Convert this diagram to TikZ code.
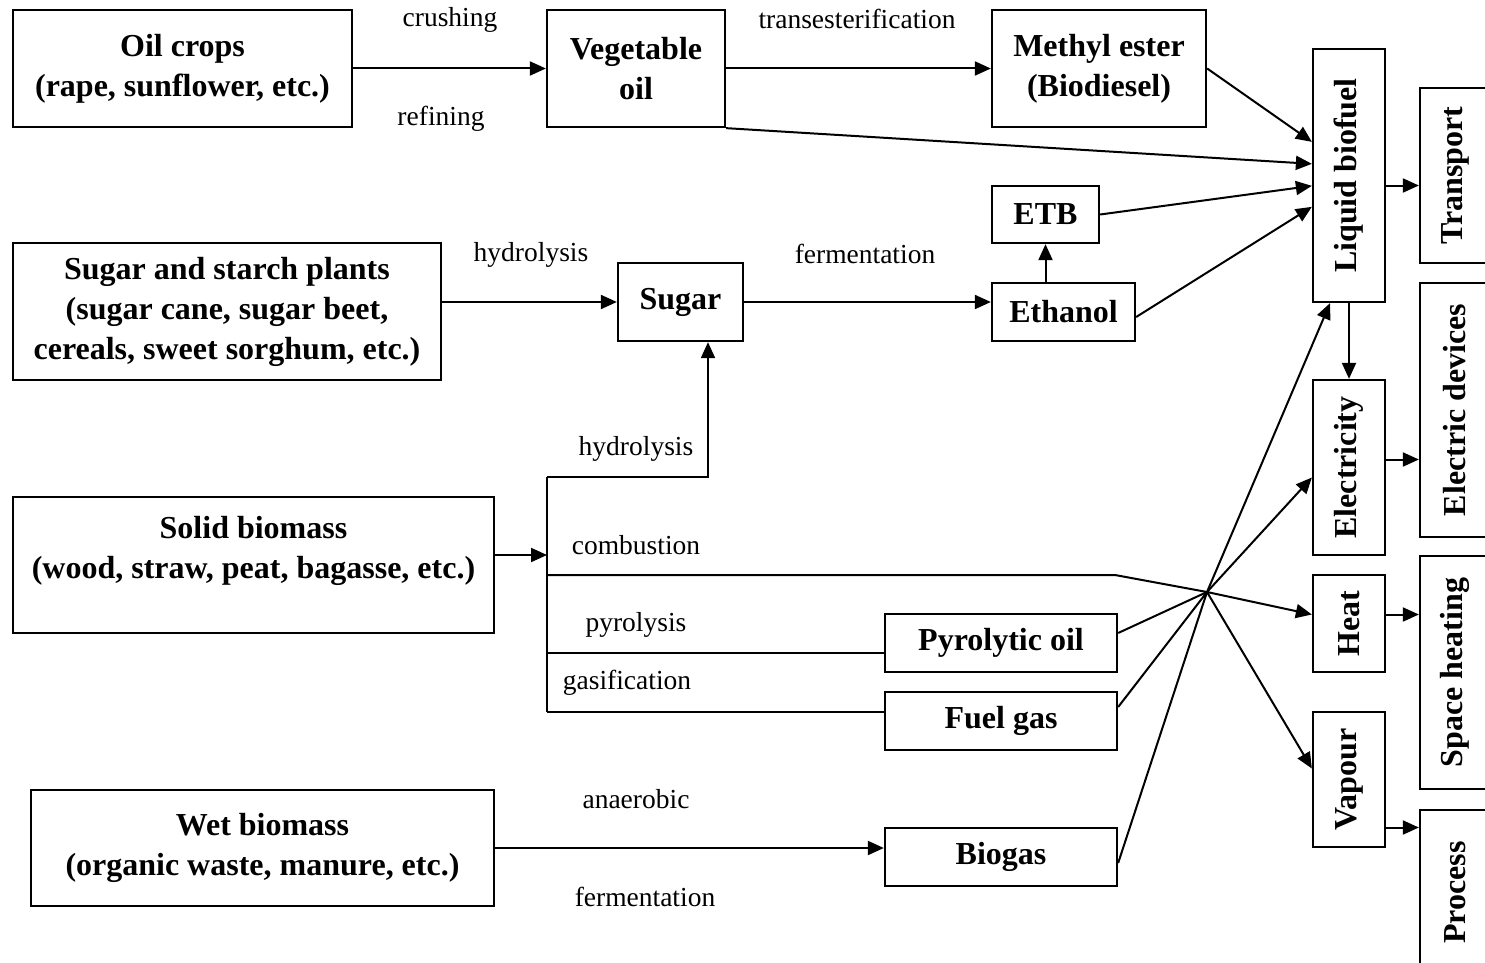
\documentclass[tikz,border=0pt]{standalone}
\usepackage{fontspec}
\setmainfont{Liberation Serif}
\usetikzlibrary{arrows.meta,calc}
\begin{document}
\begin{tikzpicture}[x=1pt,y=-1pt,
  box/.style={draw, line width=2.3pt, inner sep=0pt, align=center, font=\bfseries\fontsize{32}{40}\selectfont},
  boxtext/.style={inner sep=0pt, align=center, font=\bfseries\fontsize{32}{40}\selectfont},
  lbl/.style={inner sep=0pt, font=\fontsize{27.5}{33}\selectfont},
  ln/.style={line width=2pt},
  arr/.style={line width=2pt, -{Triangle[length=16pt,width=14pt]}}]
\useasboundingbox (0,0) rectangle (1485,963);
\clip (0,0) rectangle (1485,963);
\fill[white] (0,0) rectangle (1485,963);
% boxes
\node[box, minimum width=339pt, minimum height=117pt] (oil) at (182.5,68.5) {Oil crops\\(rape, sunflower, etc.)};
\node[box, minimum width=178pt, minimum height=117pt] (veg) at (636,68.5) {Vegetable\\oil};
\node[box, minimum width=214pt, minimum height=117pt] (me) at (1099,68.5) {Methyl ester\\(Biodiesel)};
\node[box, minimum width=72pt, minimum height=253pt] (lb) at (1349,175.5) {\rotatebox{90}{Liquid biofuel}};
\node[box, minimum width=70pt, minimum height=175pt] (tr) at (1455,175.5) {\rotatebox{90}{Transport}};
\node[box, minimum width=107pt, minimum height=57pt] (etb) at (1045.5,214.5) {ETB};
\node[box, minimum width=428pt, minimum height=137pt] (ssp) at (227,311.5) {Sugar and starch plants\\(sugar cane, sugar beet,\\cereals, sweet sorghum, etc.)};
\node[box, minimum width=125pt, minimum height=78pt] (sugar) at (680.5,302) {Sugar};
\node[box, minimum width=143pt, minimum height=58pt] (eth) at (1063.5,312) {Ethanol};
\node[box, minimum width=72pt, minimum height=175pt] (elec) at (1349,467.5) {\rotatebox{90}{Electricity}};
\node[box, minimum width=70pt, minimum height=254pt] (edev) at (1455,410) {\rotatebox{90}{Electric devices}};
\node[box, minimum width=481pt, minimum height=136pt] (solid) at (253.5,565) {};
\node[boxtext] (solidtext) at (253.5,551) {Solid biomass\\(wood, straw, peat, bagasse, etc.)};
\node[box, minimum width=72pt, minimum height=97pt] (heat) at (1349,623.5) {\rotatebox{90}{Heat}};
\node[box, minimum width=70pt, minimum height=233pt] (space) at (1455,672.5) {\rotatebox{90}{Space heating}};
\node[box, minimum width=72pt, minimum height=135pt] (vap) at (1349,779.5) {\rotatebox{90}{Vapour}};
\node[box, minimum width=70pt, minimum height=165pt] (proc) at (1455,892.5) {\rotatebox{90}{Process}};
\node[box, minimum width=232pt, minimum height=58pt] (pyro) at (1001,643) {Pyrolytic oil};
\node[box, minimum width=232pt, minimum height=58pt] (fuel) at (1001,721) {Fuel gas};
\node[box, minimum width=463pt, minimum height=116pt] (wet) at (262.5,848) {Wet biomass\\(organic waste, manure, etc.)};
\node[box, minimum width=232pt, minimum height=58pt] (bio) at (1001,857) {Biogas};
% labels
\node[lbl] (l1) at (450,20) {crushing};
\node[lbl] (l2) at (441,119) {refining};
\node[lbl] (l3) at (857,19) {transesterification};
\node[lbl] (l4) at (531,255) {hydrolysis};
\node[lbl] (l5) at (865,254) {fermentation};
\node[lbl] (l6) at (636,449) {hydrolysis};
\node[lbl] (l7) at (636,545) {combustion};
\node[lbl] (l8) at (636,625) {pyrolysis};
\node[lbl] (l9) at (627,683) {gasification};
\node[lbl] (l10) at (636,799) {anaerobic};
\node[lbl] (l11) at (645,897) {fermentation};
% coordinates
\coordinate (hub) at (1207,592);
\coordinate (br) at (547,555);
\coordinate (bt) at (547,477);
\coordinate (bb) at (547,712);
\coordinate (py) at (547,653);
\coordinate (c1) at (547,575);
\coordinate (c2) at (1115,575);
\coordinate (lbT) at ($(lb.east)+(0,10)$);
\coordinate (elT) at ($(elec.east)+(0,-8)$);
\coordinate (htT) at ($(heat.east)+(0,-9)$);
\coordinate (vpT) at ($(vap.east)+(0,48)$);
% connectors top
\draw[arr] (oil.east) -- (veg.west);
\draw[arr] (veg.east) -- (me.west);
\draw[arr] (me.east) -- ($(lb.north west)+(0,94)$);
\draw[arr] (veg.south east) -- ($(lb.north west)+(0,116)$);
\draw[arr] (etb.east) -- ($(lb.north west)+(0,138)$);
\draw[arr] ($(eth.east)+(0,5)$) -- ($(lb.north west)+(0,159)$);
\draw[arr] (lbT) -- (lbT -| tr.west);
\draw[arr] (lb.south) -- (elec.north);
\draw[arr] (elT) -- (elT -| edev.west);
\draw[arr] (htT) -- (htT -| space.west);
\draw[arr] (vpT) -- (vpT -| proc.west);
\draw[arr] (ssp.east |- sugar.west) -- (sugar.west);
\draw[arr] (sugar.east) -- (sugar.east -| eth.west);
\draw[arr] (etb.south |- eth.north) -- (etb.south);
% solid biomass branches
\draw[arr] (solid.east |- br) -- (br);
\draw[ln] (bt) -- (bb);
\draw[arr] (bt) -| ($(sugar.south)+(27.5,0)$);
\draw[arr] (c1) -- (c2) -- (hub) -- ($(heat.west)+(0,-9)$);
\draw[ln] (py) -- (py -| pyro.west);
\draw[ln] (bb) -- (bb -| fuel.west);
\draw[arr] (wet.east) -- (wet.east -| bio.west);
% hub
\draw[ln] ($(pyro.east)+(0,-10)$) -- (hub);
\draw[ln] ($(fuel.east)+(0,-14)$) -- (hub);
\draw[ln] ($(bio.east)+(0,6)$) -- (hub);
\draw[arr] (hub) -- ($(lb.south)+(-19,0)$);
\draw[arr] (hub) -- ($(elec.west)+(0,10)$);
\draw[arr] (hub) -- ($(vap.west)+(0,-11)$);
\end{tikzpicture}
\end{document}
